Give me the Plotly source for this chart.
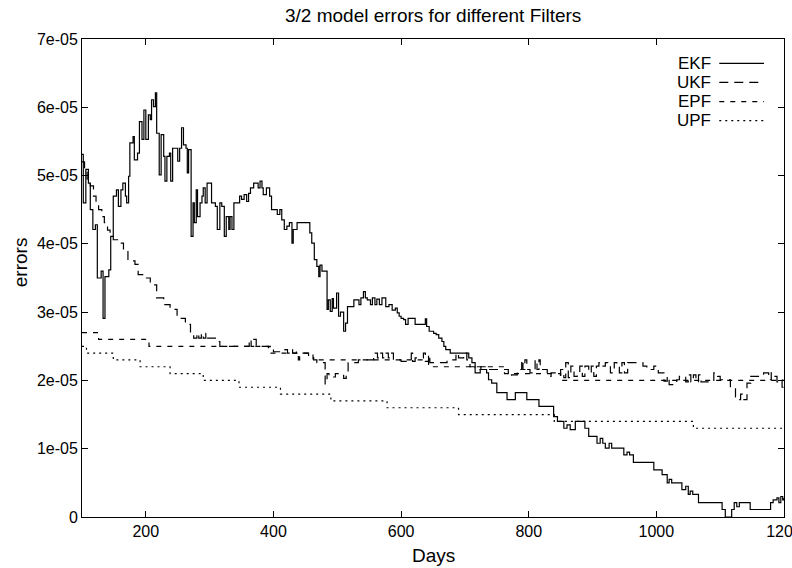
import numpy as np
import plotly.graph_objects as go

# ---------------- data (errors in units of 1e-05) ----------------
ekf_days = [100, 102, 106, 110, 113, 117, 121, 124, 130, 133, 136, 142, 145, 149, 154, 157, 161, 164,
            168, 170, 173, 175, 180, 182, 187, 190, 194, 197, 200, 204, 207, 209, 212, 215, 217, 221,
            224, 228, 230, 233, 237, 239, 242, 247, 250, 253, 256, 259, 263, 265, 267, 271, 274, 276,
            279, 281, 285, 288, 290, 293, 296, 300, 303, 309, 312, 316, 319, 323, 326, 330, 332, 335,
            338, 343, 347, 350, 354, 358, 361, 364, 369, 374, 376, 379, 382, 384, 389, 394, 397, 403,
            406, 410, 413, 417, 421, 425, 429, 431, 437, 445, 452, 457, 460, 464, 468, 471, 473, 476,
            481, 484, 486, 489, 492, 494, 499, 502, 505, 510, 513, 516, 523, 526, 531, 534, 537, 541,
            544, 547, 552, 555, 559, 562, 566, 570, 576, 581, 586, 591, 594, 597, 600, 604, 607, 611,
            616, 622, 635, 638, 640, 644, 651, 655, 659, 664, 667, 670, 677, 703, 706, 711, 716, 724,
            734, 737, 742, 745, 750, 761, 766, 779, 795, 797, 813, 816, 834, 839, 845, 849, 855, 860,
            865, 873, 881, 888, 894, 907, 912, 916, 920, 926, 930, 944, 949, 954, 958, 964, 993, 996,
            1006, 1009, 1017, 1020, 1024, 1037, 1040, 1046, 1050, 1053, 1057, 1066, 1100, 1103, 1108,
            1116, 1118, 1122, 1126, 1130, 1145, 1147, 1176, 1179, 1183, 1189, 1192, 1195, 1198, 1200]
ekf_vals = [5.31, 4.60, 5.09, 4.89, 4.50, 4.21, 4.28, 3.50, 3.60, 2.91, 3.52, 3.62, 4.11, 4.70, 4.79, 4.55, 4.79, 4.89,
            4.70, 4.60, 4.99, 5.48, 5.57, 5.23, 5.33, 5.79, 5.53, 5.96, 5.53, 5.89, 5.82, 6.11, 6.01, 6.21, 5.62, 5.01,
            5.60, 5.28, 4.92, 5.28, 5.33, 4.92, 5.40, 5.40, 5.21, 5.40, 5.70, 5.45, 5.40, 5.04, 5.38, 4.11, 4.60, 4.31,
            4.79, 4.40, 4.60, 4.70, 4.82, 4.60, 4.89, 4.89, 4.60, 4.55, 4.21, 4.60, 4.55, 4.11, 4.40, 4.21, 4.40, 4.21,
            4.60, 4.60, 4.70, 4.65, 4.72, 4.62, 4.74, 4.82, 4.89, 4.89, 4.82, 4.92, 4.82, 4.72, 4.82, 4.70, 4.50, 4.50,
            4.43, 4.50, 4.35, 4.21, 4.26, 4.31, 4.01, 4.21, 4.31, 4.31, 4.31, 4.16, 4.01, 3.77, 3.67, 3.52, 3.69, 3.60,
            3.60, 3.04, 3.18, 3.01, 3.20, 3.06, 3.28, 2.94, 3.00, 2.72, 2.84, 3.08, 3.08, 3.18, 3.18, 3.11, 3.21, 3.30,
            3.21, 3.18, 3.11, 3.21, 3.11, 3.19, 3.11, 3.21, 3.08, 3.11, 3.03, 3.06, 2.99, 2.94, 2.91, 2.89, 2.82, 2.91,
            2.91, 2.82, 2.82, 2.90, 2.79, 2.72, 2.69, 2.67, 2.62, 2.57, 2.50, 2.45, 2.40, 2.40, 2.33, 2.26, 2.11, 2.16,
            2.11, 2.01, 1.96, 1.96, 1.82, 1.82, 1.72, 1.82, 1.82, 1.72, 1.72, 1.62, 1.62, 1.47, 1.40, 1.40, 1.30, 1.35,
            1.28, 1.40, 1.40, 1.30, 1.18, 1.08, 1.15, 1.08, 1.01, 1.08, 1.01, 1.01, 0.91, 0.95, 0.91, 0.80, 0.80, 0.69,
            0.69, 0.62, 0.50, 0.55, 0.50, 0.50, 0.40, 0.45, 0.33, 0.38, 0.33, 0.21, 0.21, 0.11, 0.00,
            0.00, 0.11, 0.21, 0.15, 0.21, 0.21, 0.11, 0.11, 0.21, 0.25, 0.28, 0.21, 0.30, 0.25, 0.28]

ukf_days = [100, 104, 108, 113, 118, 122, 126, 131, 135, 140, 144, 149, 157, 165, 172, 183, 188, 201, 207, 217,
            228, 238, 249, 262, 270, 275, 280, 283, 287, 290, 294, 297, 303, 309, 316, 358, 362, 365, 369, 373,
            392, 400, 418, 422, 426, 430, 436, 439, 441, 450, 455, 463, 468, 478, 481, 484, 487, 497, 504, 510,
            514, 517, 531, 533, 556, 557, 563, 566, 571, 575, 580, 584, 588, 600, 609, 616, 618, 622, 635, 638,
            643, 645, 668, 672, 686, 690, 698, 703, 708, 716, 725, 735, 745, 768, 773, 782, 789, 791, 794, 797,
            802, 808, 810, 813, 816, 818, 829, 835, 846, 850, 855, 858, 862, 866, 871, 876, 880, 884, 888, 894,
            898, 902, 906, 910, 915, 920, 924, 928, 934, 938, 942, 946, 950, 955, 979, 985, 990, 996, 1003, 1009,
            1012, 1017, 1020, 1032, 1036, 1046, 1050, 1054, 1058, 1062, 1066, 1070, 1079, 1090, 1096, 1100, 1116,
            1124, 1128, 1132, 1136, 1142, 1148, 1168, 1173, 1176, 1180, 1186, 1189, 1194, 1197, 1200]
ukf_vals = [5.20, 5.10, 4.95, 4.85, 4.70, 4.60, 4.50, 4.40, 4.31, 4.20, 4.16, 4.06, 4.01, 3.91, 3.75, 3.70, 3.55, 3.50, 3.40, 3.21,
            3.11, 3.04, 2.91, 2.82, 2.69, 2.62, 2.69, 2.62, 2.69, 2.62, 2.69, 2.62, 2.62, 2.57, 2.50, 2.50, 2.60, 2.50, 2.60, 2.50,
            2.48, 2.42, 2.45, 2.40, 2.45, 2.40, 2.42, 2.30, 2.40, 2.40, 2.35, 2.30, 2.26, 2.26, 1.95, 2.10, 2.05, 2.10, 2.10, 2.03,
            2.10, 2.26, 2.26, 2.30, 2.30, 2.40, 2.33, 2.40, 2.33, 2.40, 2.33, 2.40, 2.30, 2.28, 2.30, 2.40, 2.28, 2.33, 2.40, 2.28,
            2.38, 2.26, 2.26, 2.30, 2.40, 2.33, 2.40, 2.30, 2.20, 2.16, 2.20, 2.16, 2.16, 2.06, 2.08, 2.16, 2.30, 2.16, 2.30, 2.16,
            2.11, 2.16, 2.30, 2.16, 2.30, 2.16, 2.06, 2.11, 2.08, 2.16, 2.04, 2.26, 2.04, 2.21, 2.06, 2.11, 2.21, 2.06, 2.21, 2.11,
            2.21, 2.06, 2.21, 2.26, 2.21, 2.26, 2.21, 2.11, 2.26, 2.21, 2.11, 2.26, 2.11, 2.26, 2.21, 2.16, 2.16, 2.21, 2.11, 2.11,
            1.99, 2.06, 1.94, 2.01, 2.06, 1.98, 2.08, 1.98, 2.08, 1.98, 2.08, 1.98, 1.98, 2.11, 2.06, 2.01, 1.89,
            1.76, 1.72, 1.80, 1.72, 1.96, 2.06, 2.11, 2.11, 2.01, 2.11, 2.06, 1.98, 2.01, 1.90, 1.90]

epf_days = [100, 126, 205, 395, 462, 643, 762, 850, 1200]
epf_vals = [2.70, 2.60, 2.50, 2.40, 2.30, 2.20, 2.10, 2.00, 2.00]

upf_days = [100, 107, 149, 191, 238, 290, 346, 411, 490, 578, 690, 840, 1058, 1200]
upf_vals = [2.50, 2.40, 2.30, 2.20, 2.10, 2.00, 1.90, 1.80, 1.70, 1.60, 1.50, 1.40, 1.30, 1.30]

series_names = ["EKF", "UKF", "EPF", "UPF"]
y_tickvals = [0, 1e-05, 2e-05, 3e-05, 4e-05, 5e-05, 6e-05, 7e-05]
y_ticktext = ["0", "1e-05", "2e-05", "3e-05", "4e-05", "5e-05", "6e-05", "7e-05"]
x_tickvals = [200, 400, 600, 800, 1000, 1200]

SCALE = 1e-05
FONT = "Liberation Sans, Arial, Helvetica, sans-serif"
dashes = ["solid", "9px,6px", "5px,6px", "2px,4px"]
data = [(ekf_days, ekf_vals), (ukf_days, ukf_vals), (epf_days, epf_vals), (upf_days, upf_vals)]

fig = go.Figure()
for name, (d, v), dash in zip(series_names, data, dashes):
    fig.add_trace(go.Scatter(
        x=d, y=np.array(v) * SCALE, mode="lines", name=name, showlegend=False,
        line=dict(color="black", width=1.2, dash=dash, shape="hv"),
    ))

# gnuplot-style key (text right-aligned, sample to the right)
key_y = [0.9492, 0.9094, 0.8688, 0.8291]
for name, dash, ky in zip(series_names, dashes, key_y):
    fig.add_annotation(x=0.8984, y=ky, xref="paper", yref="paper", text=name, showarrow=False,
                       xanchor="right", yanchor="middle", font=dict(family=FONT, size=17, color="black"))
    fig.add_shape(type="line", xref="paper", yref="paper", x0=0.9078, x1=0.9715, y0=ky, y1=ky,
                  line=dict(color="black", width=1.2, dash=dash))

fig.add_annotation(x=0.5, y=1, xref="paper", yref="paper", yshift=24, text="3/2 model errors for different Filters",
                   showarrow=False, xanchor="center", yanchor="middle", font=dict(family=FONT, size=19, color="black"))
fig.add_annotation(x=0.5, y=0, xref="paper", yref="paper", yshift=-38, text="Days",
                   showarrow=False, xanchor="center", yanchor="middle", font=dict(family=FONT, size=19, color="black"))
fig.add_annotation(x=0, y=0.533, xref="paper", yref="paper", xshift=-62, text="errors", textangle=-90,
                   showarrow=False, xanchor="center", yanchor="middle", font=dict(family=FONT, size=19, color="black"))

axis_common = dict(showgrid=False, zeroline=False, showline=True, linecolor="black", linewidth=1,
                   mirror="ticks", ticks="inside", ticklen=6, tickwidth=1, tickcolor="black",
                   tickfont=dict(family=FONT, size=16, color="black"), automargin=False)
fig.update_xaxes(range=[100, 1200], tickvals=x_tickvals, ticklabeloverflow="allow", **axis_common)
fig.update_yaxes(range=[0, 7e-05], tickvals=y_tickvals, ticktext=y_ticktext, **axis_common)

fig.update_layout(width=792, height=568, margin=dict(l=82, r=8, t=39, b=51),
                  paper_bgcolor="white", plot_bgcolor="white", showlegend=False,
                  font=dict(family=FONT, color="black"))
fig.write_html("out.html")
